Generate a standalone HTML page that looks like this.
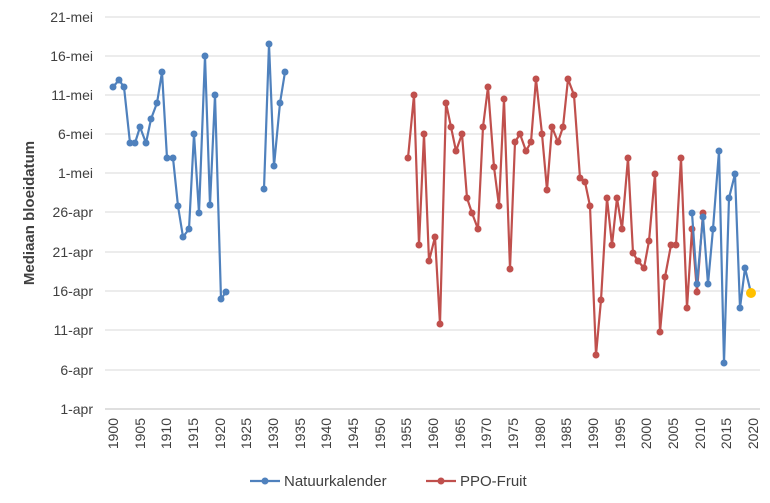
<!DOCTYPE html>
<html><head><meta charset="utf-8"><style>
html,body{margin:0;padding:0;background:#fff;}
svg{display:block;font-family:"Liberation Sans",sans-serif;}
</style></head><body>
<svg width="770" height="503" viewBox="0 0 770 503">
<g stroke="#d9d9d9" stroke-width="1">
<line x1="105" x2="760" y1="17" y2="17"/><line x1="105" x2="760" y1="56" y2="56"/>
<line x1="105" x2="760" y1="95" y2="95"/><line x1="105" x2="760" y1="134" y2="134"/>
<line x1="105" x2="760" y1="173" y2="173"/><line x1="105" x2="760" y1="212" y2="212"/>
<line x1="105" x2="760" y1="252" y2="252"/><line x1="105" x2="760" y1="291" y2="291"/>
<line x1="105" x2="760" y1="330" y2="330"/><line x1="105" x2="760" y1="370" y2="370"/>
</g>
<line x1="105" x2="760" y1="409" y2="409" stroke="#bfbfbf"/>
<g font-size="14" fill="#404040" text-anchor="end">
<text x="93" y="22">21-mei</text><text x="93" y="61">16-mei</text><text x="93" y="100">11-mei</text>
<text x="93" y="139">6-mei</text><text x="93" y="178">1-mei</text><text x="93" y="217">26-apr</text>
<text x="93" y="257">21-apr</text><text x="93" y="296">16-apr</text><text x="93" y="335">11-apr</text>
<text x="93" y="375">6-apr</text><text x="93" y="414">1-apr</text>
</g>
<text transform="translate(34,213) rotate(-90)" font-size="15" font-weight="bold" fill="#404040" text-anchor="middle">Mediaan bloeidatum</text>
<g font-size="14" fill="#404040" text-anchor="end">
<text transform="translate(118,418) rotate(-90)">1900</text>
<text transform="translate(145,418) rotate(-90)">1905</text>
<text transform="translate(171,418) rotate(-90)">1910</text>
<text transform="translate(198,418) rotate(-90)">1915</text>
<text transform="translate(225,418) rotate(-90)">1920</text>
<text transform="translate(251,418) rotate(-90)">1925</text>
<text transform="translate(278,418) rotate(-90)">1930</text>
<text transform="translate(305,418) rotate(-90)">1935</text>
<text transform="translate(331,418) rotate(-90)">1940</text>
<text transform="translate(358,418) rotate(-90)">1945</text>
<text transform="translate(385,418) rotate(-90)">1950</text>
<text transform="translate(411,418) rotate(-90)">1955</text>
<text transform="translate(438,418) rotate(-90)">1960</text>
<text transform="translate(465,418) rotate(-90)">1965</text>
<text transform="translate(491,418) rotate(-90)">1970</text>
<text transform="translate(518,418) rotate(-90)">1975</text>
<text transform="translate(545,418) rotate(-90)">1980</text>
<text transform="translate(571,418) rotate(-90)">1985</text>
<text transform="translate(598,418) rotate(-90)">1990</text>
<text transform="translate(625,418) rotate(-90)">1995</text>
<text transform="translate(651,418) rotate(-90)">2000</text>
<text transform="translate(678,418) rotate(-90)">2005</text>
<text transform="translate(705,418) rotate(-90)">2010</text>
<text transform="translate(731,418) rotate(-90)">2015</text>
<text transform="translate(758,418) rotate(-90)">2020</text>
</g>
<defs>
<marker id="mr" viewBox="0 0 10 10" refX="5" refY="5" markerWidth="7" markerHeight="7" markerUnits="userSpaceOnUse"><circle cx="5" cy="5" r="5" fill="#c0504d"/></marker>
<marker id="mb" viewBox="0 0 10 10" refX="5" refY="5" markerWidth="7" markerHeight="7" markerUnits="userSpaceOnUse"><circle cx="5" cy="5" r="5" fill="#4f81bd"/></marker>
</defs>
<g fill="none" stroke-width="2.2" stroke-linejoin="round">
<polyline stroke="#c0504d" marker-start="url(#mr)" marker-mid="url(#mr)" marker-end="url(#mr)" points="408,158 414,95 419,245 424,134 429,261 435,237 440,324 446,103 451,127 456,151 462,134 467,198 472,213 478,229 483,127 488,87 494,167 499,206 504,99 510,269 515,142 520,134 526,151 531,142 536,79 542,134 547,190 552,127 558,142 563,127 568,79 574,95 580,178 585,182 590,206 596,355 601,300 607,198 612,245 617,198 622,229 628,158 633,253 638,261 644,268 649,241 655,174 660,332 665,277 671,245 676,245 681,158 687,308 692,229 697,292 703,213"/>
<polyline stroke="#4f81bd" marker-start="url(#mb)" marker-mid="url(#mb)" marker-end="url(#mb)" points="113,87 119,80 124,87 130,143 135,143 140,127 146,143 151,119 157,103 162,72 167,158 173,158 178,206 183,237 189,229 194,134 199,213 205,56 210,205 215,95 221,299 226,292"/>
<polyline stroke="#4f81bd" marker-start="url(#mb)" marker-mid="url(#mb)" marker-end="url(#mb)" points="264,189 269,44 274,166 280,103 285,72"/>
<polyline stroke="#4f81bd" marker-start="url(#mb)" marker-mid="url(#mb)" points="692,213 697,284 703,217 708,284 713,229 719,151 724,363 729,198 735,174 740,308 745,268 751,293"/>
</g>
<circle cx="751" cy="293" r="5" fill="#ffc000"/>
<g font-size="15" fill="#404040">
<line x1="250" x2="280" y1="481" y2="481" stroke="#4f81bd" stroke-width="2.2"/><circle cx="265" cy="481" r="3.5" fill="#4f81bd"/>
<text x="284" y="486">Natuurkalender</text>
<line x1="426" x2="456" y1="481" y2="481" stroke="#c0504d" stroke-width="2.2"/><circle cx="441" cy="481" r="3.5" fill="#c0504d"/>
<text x="460" y="486">PPO-Fruit</text>
</g>
</svg>
</body></html>
